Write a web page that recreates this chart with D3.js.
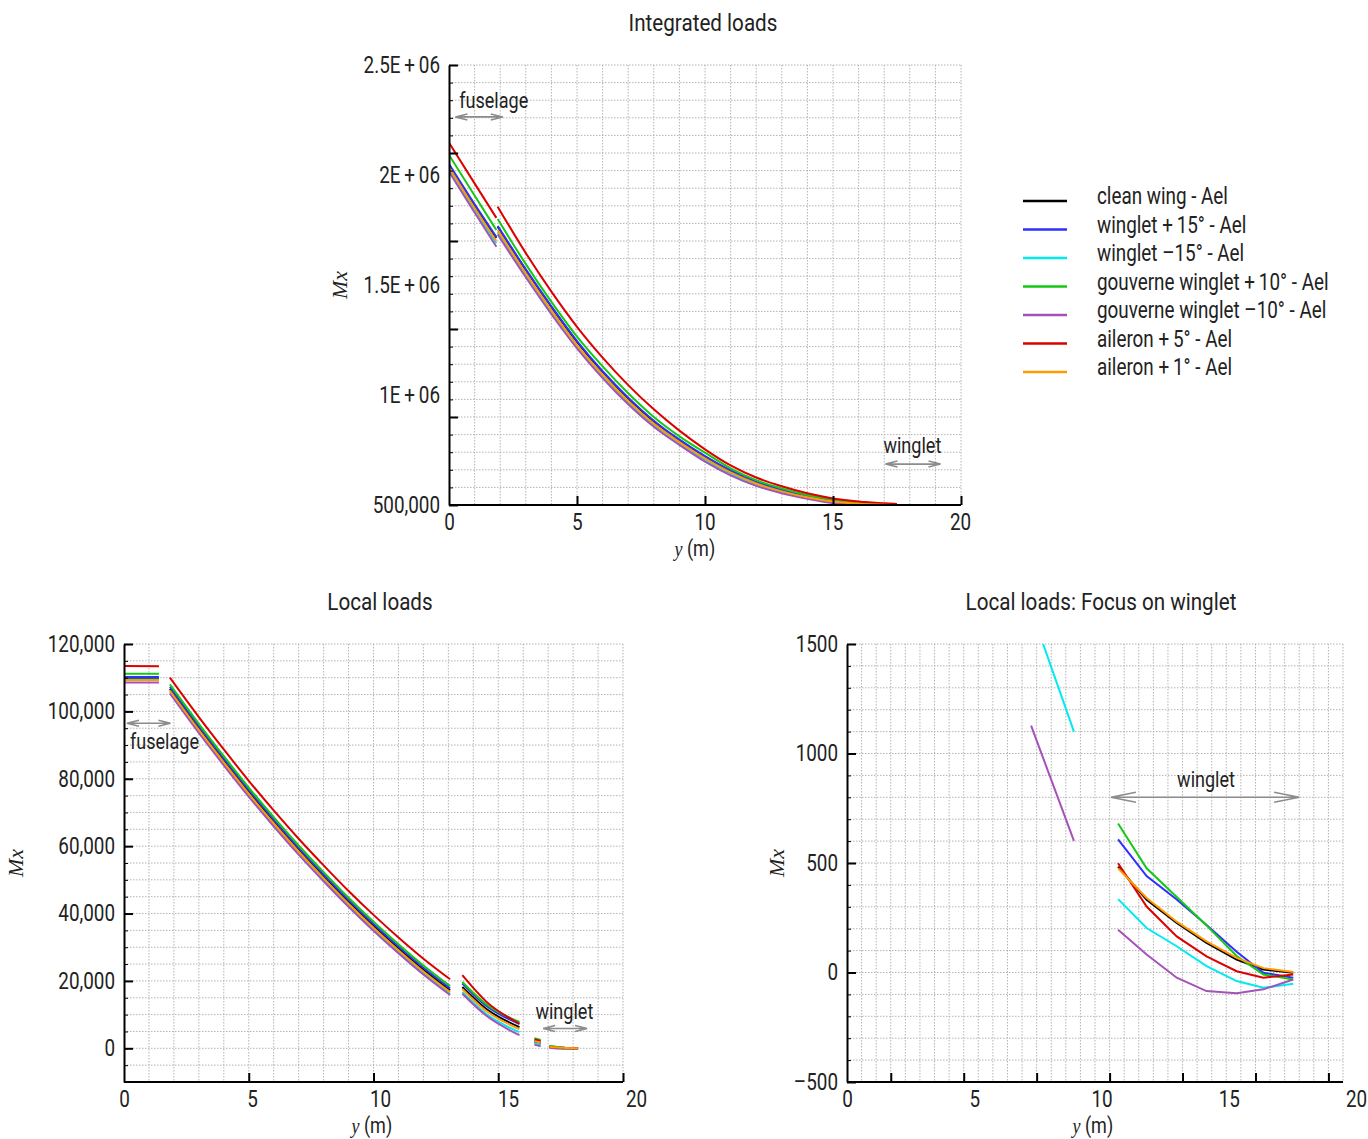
<!DOCTYPE html>
<html>
<head>
<meta charset="utf-8">
<script src="https://cdn.jsdelivr.net/npm/d3@7"></script>
<style>
  body { margin: 0; background: #fff; }
  svg text { font-family: "Roboto", "Liberation Sans", sans-serif; fill: #222; }
  .grid { stroke: #b4b4b4; stroke-width: 1; stroke-dasharray: 1.5, 1.5; }
  .tick text { font-size: 23px; }
  .ann { stroke: #8c8c8c; stroke-width: 1.6; fill: none; }
  /* narrow look of the original font */
  .nw { transform-box: fill-box; transform: scaleX(0.82); }
  .nw.t { transform: scaleX(0.86); }
  .nw.s { transform-origin: 0% 50%; }
  .nw.m { transform-origin: 50% 50%; }
  .nw.e { transform-origin: 100% 50%; }
</style>
</head>
<body>
<svg id="chart" width="1368" height="1139"></svg>
<script>
// series (legend order = drawing order)
const seriesNames = ["clean wing - Ael", "winglet +\u200915\u00b0 - Ael", "winglet \u201315\u00b0 - Ael",
  "gouverne winglet +\u200910\u00b0 - Ael", "gouverne winglet \u201310\u00b0 - Ael", "aileron +\u20095\u00b0 - Ael", "aileron +\u20091\u00b0 - Ael"];
const seriesColors = ["#000000", "#2f2fff", "#00eaf0", "#14c814", "#a552b8", "#dc0000", "#ff9a00"];

// ---- Integrated loads (top) ----
const topSeg1X = [0, 0.9, 1.85];
const topSeg1 = [
  [2045e3, 1880e3, 1714e3],
  [2050e3, 1885e3, 1718e3],
  [2025e3, 1858e3, 1690e3],
  [2091e3, 1925e3, 1750e3],
  [2015e3, 1848e3, 1674e3],
  [2147e3, 1980e3, 1805e3],
  [2035e3, 1868e3, 1700e3]
];
const topSeg2X = [1.9, 3, 4, 5, 6, 7, 8, 9, 10, 11, 12, 13, 14, 15, 16, 17, 17.5];
const topSeg2 = [
  [1765e3, 1568e3, 1400e3, 1242e3, 1105e3, 985e3, 880e3, 795e3, 720e3, 655e3, 603e3, 566e3, 538e3, 519e3, 508e3, 502e3, 500e3],
  [1768e3, 1571e3, 1403e3, 1245e3, 1108e3, 988e3, 883e3, 797e3, 722e3, 657e3, 605e3, 568e3, 540e3, 521e3, 509e3, 503e3, 501e3],
  [1740e3, 1545e3, 1377e3, 1219e3, 1084e3, 966e3, 863e3, 780e3, 705e3, 642e3, 593e3, 558e3, 532e3, 513e3, 504e3, 500e3, 498e3],
  [1800e3, 1595e3, 1423e3, 1265e3, 1130e3, 1008e3, 900e3, 812e3, 738e3, 667e3, 613e3, 575e3, 545e3, 525e3, 512e3, 505e3, 502e3],
  [1730e3, 1535e3, 1367e3, 1212e3, 1077e3, 958e3, 856e3, 773e3, 697e3, 635e3, 587e3, 553e3, 528e3, 508e3, 500e3, 497e3, 495e3],
  [1856e3, 1645e3, 1470e3, 1310e3, 1170e3, 1045e3, 935e3, 838e3, 753e3, 680e3, 625e3, 585e3, 553e3, 530e3, 516e3, 508e3, 505e3],
  [1750e3, 1553e3, 1385e3, 1227e3, 1092e3, 973e3, 870e3, 786e3, 712e3, 648e3, 598e3, 562e3, 535e3, 516e3, 506e3, 501e3, 499e3]
];
const topYMajor = [500e3, 900e3, 1300e3, 1700e3, 2100e3, 2500e3];
const topYLabelVals = [500e3, 1000e3, 1500e3, 2000e3, 2500e3];
const topYLabels = ["500,000", "1E\u2009+\u200906", "1.5E\u2009+\u200906", "2E\u2009+\u200906", "2.5E\u2009+\u200906"];
const xLabelVals = [0, 5, 10, 15, 20];
const xLabels = ["0", "5", "10", "15", "20"];

// ---- Local loads (bottom left) ----
const locSeg1X = [0, 1.4];
const locSeg1 = [[109.8e3, 109.8e3], [110.2e3, 110.2e3], [109.5e3, 109.5e3], [111.2e3, 111.2e3],
  [108.6e3, 108.6e3], [113.5e3, 113.4e3], [109.3e3, 109.3e3]];
const locSeg2X = [1.84, 3, 4, 5, 6, 7, 8, 9, 10, 11, 12, 13.07];
const locSeg2 = [
  [106.7e3, 95.0e3, 85.4e3, 76.1e3, 67.3e3, 58.9e3, 51.0e3, 43.4e3, 36.3e3, 29.6e3, 23.3e3, 17.2e3],
  [107.3e3, 95.6e3, 86.0e3, 76.7e3, 67.9e3, 59.5e3, 51.6e3, 44.0e3, 36.9e3, 30.2e3, 23.9e3, 17.8e3],
  [105.7e3, 94.0e3, 84.4e3, 75.1e3, 66.3e3, 57.9e3, 50.0e3, 42.4e3, 35.3e3, 28.6e3, 22.3e3, 16.2e3],
  [108.0e3, 96.3e3, 86.7e3, 77.4e3, 68.6e3, 60.2e3, 52.3e3, 44.7e3, 37.6e3, 30.9e3, 24.6e3, 18.5e3],
  [105.3e3, 93.6e3, 84.0e3, 74.7e3, 65.9e3, 57.5e3, 49.6e3, 42.0e3, 34.9e3, 28.2e3, 21.9e3, 15.8e3],
  [110.0e3, 98.3e3, 88.7e3, 79.4e3, 70.6e3, 62.2e3, 54.3e3, 46.7e3, 39.6e3, 32.9e3, 26.6e3, 20.5e3],
  [106.2e3, 94.5e3, 84.9e3, 75.6e3, 66.8e3, 58.4e3, 50.5e3, 42.9e3, 35.8e3, 29.1e3, 22.8e3, 16.7e3]
];
const locSeg3X = [13.56, 14.5, 15.85];
const locSeg3 = [[18.2e3, 11.8e3, 6.3e3], [19.2e3, 12.7e3, 7.2e3], [16.7e3, 10.3e3, 4.8e3], [19.7e3, 13.2e3, 7.8e3],
  [16.2e3, 9.8e3, 3.9e3], [21.7e3, 14.0e3, 7.3e3], [17.6e3, 11.2e3, 5.7e3]];
const locSeg4X = [16.45, 16.7];
const locSeg4 = [[1.8e3, 1.4e3], [2.3e3, 1.9e3], [1.5e3, 1.1e3], [3.0e3, 2.5e3], [1.1e3, 0.6e3], [2.6e3, 2.2e3], [2.1e3, 1.7e3]];
const locSeg5X = [17.05, 17.6, 18.2];
const locSeg5 = [[480, 130, 0], [610, 180, -20], [330, -40, -50], [680, 200, -30], [190, -90, -30], [500, 40, -10], [480, 140, 0]];
const locYMajor = [0, 20e3, 40e3, 60e3, 80e3, 100e3, 120e3];
const locYLabels = ["0", "20,000", "40,000", "60,000", "80,000", "100,000", "120,000"];

// ---- Local loads: focus on winglet (bottom right) ----
const wSegCyanX = [7.6, 8.9];
const wSegCyan = [1530, 1100];
const wSegPurpleX = [7.22, 8.9];
const wSegPurple = [1127, 601];
const wingX = [10.63, 11.75, 12.93, 14.1, 15.28, 16.33, 17.5];
const wing = [
  [483, 332, 226, 135, 59, 14, -1],
  [608, 440, 333, 217, 95, -1, -24],
  [335, 203, 120, 29, -39, -70, -51],
  [680, 476, 345, 215, 75, -9, -32],
  [195, 82, -24, -85, -95, -77, -32],
  [499, 301, 165, 74, 6, -24, -9],
  [476, 340, 232, 142, 67, 20, 2]
];
const wYMajor = [-500, 0, 500, 1000, 1500];
const wYLabels = ["\u2013500", "0", "500", "1000", "1500"];
const wXMajorCells = [3, 8, 13, 18, 23, 28, 33];

const svg = d3.select("#chart");

function arrow(g, x1, x2, y, head, hw) {
  g.append("path").attr("class", "ann")
    .attr("d", `M${x1},${y}H${x2}M${x1 + head},${y - hw}L${x1},${y}L${x1 + head},${y + hw}` +
      `M${x2 - head},${y - hw}L${x2},${y}L${x2 - head},${y + hw}`);
}

function drawPanel(p) {
  const x = d3.scaleLinear().domain([0, 20]).range([p.left, p.xEnd]);
  const y = d3.scaleLinear().domain(p.yDomain).range([p.bottom, p.top]);
  const xLab = d3.scaleLinear().domain([0, 20]).range(p.xLabelRange);
  const xg = d3.scaleLinear().domain([0, p.xGridCount]).range([p.left, p.right]);
  const g = svg.append("g");

  //Dotted grid
  g.append("g").selectAll("line").data(d3.range(1, p.xGridCount + 1)).join("line")
    .attr("class", "grid")
    .attr("x1", d => xg(d)).attr("x2", d => xg(d))
    .attr("y1", p.top).attr("y2", p.bottom);
  g.append("g").selectAll("line").data(p.yGrid).join("line")
    .attr("class", "grid")
    .attr("x1", p.left).attr("x2", p.right)
    .attr("y1", d => y(d)).attr("y2", d => y(d));

  //Curves, clipped to the plot area
  svg.append("clipPath").attr("id", "clip" + p.id).append("rect")
    .attr("x", p.left).attr("y", p.top).attr("width", p.right - p.left).attr("height", p.bottom - p.top);
  const line = d3.line().x(d => x(d[0])).y(d => y(d[1])).curve(p.curve);
  const curves = g.append("g").attr("clip-path", `url(#clip${p.id})`);
  p.segments.forEach(seg => {
    seg.vals.forEach((vals, i) => {
      if (!vals) return;
      curves.append("path")
        .datum(seg.x.map((xv, j) => [xv, vals[j]]))
        .attr("fill", "none")
        .attr("stroke", seriesColors[i])
        .attr("stroke-width", 2)
        .attr("d", line);
    });
  });

  //Y axis: inward minor + major ticks, labels
  g.append("g").attr("transform", `translate(${p.left},0)`)
    .call(d3.axisRight(y).tickValues(p.yGrid).tickSize(4).tickSizeOuter(0).tickFormat(""))
    .call(a => a.select(".domain").remove());
  g.append("g").attr("transform", `translate(${p.left},0)`)
    .call(d3.axisRight(y).tickValues(p.yMajor).tickSize(9).tickSizeOuter(0).tickFormat(""))
    .call(a => a.select(".domain").attr("stroke-width", 2))
    .call(a => a.selectAll(".tick line").attr("stroke-width", 2));
  g.append("g").attr("transform", `translate(${p.left},0)`)
    .call(d3.axisLeft(y).tickValues(p.yLabelVals).tickSize(0).tickPadding(9)
      .tickFormat((d, i) => p.yLabels[i]))
    .call(a => a.select(".domain").remove())
    .call(a => a.selectAll("text").attr("class", "nw e"));

  //X axis
  const xTickAxis = p.xMajorCells ? d3.axisTop(xg).tickValues(p.xMajorCells) : d3.axisTop(x).tickValues(p.xMajor);
  g.append("g").attr("transform", `translate(0,${p.bottom})`)
    .call(xTickAxis.tickSize(9).tickSizeOuter(0).tickFormat(""))
    .call(a => a.select(".domain").remove())
    .call(a => a.selectAll(".tick line").attr("stroke-width", 2));
  g.append("line").attr("x1", p.left).attr("x2", p.right).attr("y1", p.bottom).attr("y2", p.bottom)
    .attr("stroke", "#000").attr("stroke-width", 2);
  g.append("g").attr("transform", `translate(0,${p.bottom})`)
    .call(d3.axisBottom(xLab).tickValues(xLabelVals).tickSize(0).tickPadding(9)
      .tickFormat((d, i) => xLabels[i]))
    .call(a => a.select(".domain").remove())
    .call(a => a.selectAll("text").attr("class", "nw m"));

  //Titles
  g.append("text").attr("class", "nw t m").attr("x", p.titleX).attr("y", p.top - 34).attr("text-anchor", "middle")
    .style("font-size", "24px").text(p.title);
  g.append("text").attr("transform", `translate(${p.mxX},${(p.top + p.bottom) / 2}) rotate(-90)`)
    .attr("text-anchor", "middle")
    .style("font-family", "'Liberation Serif', 'DejaVu Serif', serif").style("font-style", "italic")
    .style("font-size", "22px").text("Mx");
  const yt = g.append("text").attr("class", "nw m").attr("x", p.yTitleX).attr("y", p.bottom + 51)
    .attr("text-anchor", "middle").style("font-size", "22px");
  yt.append("tspan").style("font-family", "'Liberation Serif', 'DejaVu Serif', serif")
    .style("font-style", "italic").text("y");
  yt.append("tspan").text(" (m)");

  //Annotations
  p.notes.forEach(n => {
    arrow(g, x(n.x1), x(n.x2), y(n.y), n.head, n.hw);
    g.append("text").attr("class", n.anchor === "start" ? "nw s" : "nw m")
      .attr("x", x(n.tx)).attr("y", y(n.ty)).attr("dy", "0.35em")
      .attr("text-anchor", n.anchor).style("font-size", "22px").text(n.text);
  });
  return { x, y };
}

drawPanel({
  id: "top", title: "Integrated loads", titleX: 703, curve: d3.curveMonotoneX,
  left: 449, right: 961, xEnd: 961, top: 65, bottom: 505, xGridCount: 20,
  xLabelRange: [449, 960], xMajor: [5, 10, 15, 20],
  yDomain: [500e3, 2500e3], yGrid: d3.range(500e3, 2500e3 + 1, 80e3), yMajor: topYMajor,
  yLabelVals: topYLabelVals, yLabels: topYLabels,
  mxX: 347, yTitleX: 695,
  segments: [{ x: topSeg1X, vals: topSeg1 }, { x: topSeg2X, vals: topSeg2 }],
  notes: [
    { x1: 0.25, x2: 2.1, y: 2264e3, head: 12, hw: 3, tx: 0.4, ty: 2340e3, anchor: "start", text: "fuselage" },
    { x1: 17.05, x2: 19.2, y: 686e3, head: 12, hw: 3, tx: 18.1, ty: 770e3, anchor: "middle", text: "winglet" }
  ]
});

drawPanel({
  id: "loc", title: "Local loads", titleX: 380, curve: d3.curveMonotoneX,
  left: 124, right: 623, xEnd: 623, top: 644, bottom: 1082, xGridCount: 20,
  xLabelRange: [124, 636], xMajor: [5, 10, 15, 20],
  yDomain: [-10e3, 120e3], yGrid: d3.range(-5e3, 120e3 + 1, 5e3), yMajor: locYMajor,
  yLabelVals: locYMajor, yLabels: locYLabels,
  mxX: 23, yTitleX: 372,
  segments: [{ x: locSeg1X, vals: locSeg1 }, { x: locSeg2X, vals: locSeg2 }, { x: locSeg3X, vals: locSeg3 },
    { x: locSeg4X, vals: locSeg4 }, { x: locSeg5X, vals: locSeg5 }],
  notes: [
    { x1: 0.12, x2: 1.86, y: 96.5e3, head: 12, hw: 3, tx: 0.24, ty: 91.2e3, anchor: "start", text: "fuselage" },
    { x1: 16.8, x2: 18.56, y: 5.9e3, head: 12, hw: 3, tx: 17.65, ty: 11e3, anchor: "middle", text: "winglet" }
  ]
});

drawPanel({
  id: "wing", title: "Local loads: Focus on winglet", titleX: 1101, curve: d3.curveLinear,
  left: 847, right: 1343, xEnd: 1357, top: 644, bottom: 1082, xGridCount: 34,
  xLabelRange: [847, 1356], xMajorCells: wXMajorCells,
  yDomain: [-500, 1500], yGrid: d3.range(-400, 1500 + 1, 100), yMajor: wYMajor,
  yLabelVals: wYMajor, yLabels: wYLabels,
  mxX: 784, yTitleX: 1093,
  segments: [
    { x: wSegCyanX, vals: [null, null, wSegCyan] },
    { x: wSegPurpleX, vals: [null, null, null, null, wSegPurple] },
    { x: wingX, vals: wing }
  ],
  notes: [
    { x1: 10.35, x2: 17.73, y: 800, head: 25, hw: 5, tx: 14.08, ty: 880, anchor: "middle", text: "winglet" }
  ]
});

//Legend
const legend = svg.append("g").attr("transform", "translate(1023,201)");
const items = legend.selectAll("g").data(seriesNames).join("g")
  .attr("transform", (d, i) => `translate(0,${i * 28.5})`);
items.append("line").attr("x1", 0).attr("x2", 44)
  .attr("stroke", (d, i) => seriesColors[i]).attr("stroke-width", 2.5);
items.append("text").attr("class", "nw s").attr("x", 74).attr("y", -5).attr("dy", "0.35em")
  .style("font-size", "23px").text(d => d);
</script>
</body>
</html>
